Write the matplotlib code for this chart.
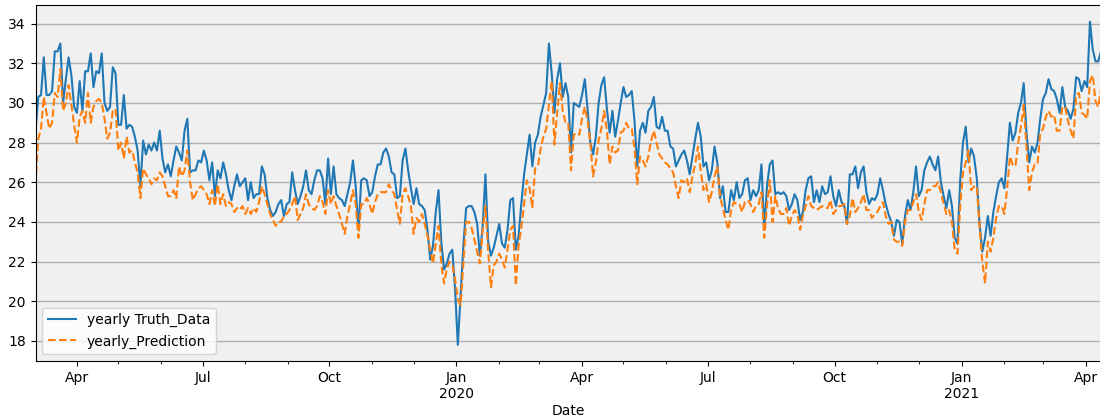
import matplotlib
matplotlib.use("Agg")
import matplotlib.pyplot as plt
import matplotlib.dates as mdates
from matplotlib.ticker import FuncFormatter
import pandas as pd

start_date = "2019-03-02"
step = "2D"

truth = [
    # Mar - Jun 2019
    28.6, 30.3, 30.4, 32.3, 30.4, 30.4, 30.6, 32.6, 32.6, 33.0,
    30.0, 31.2, 32.3, 31.4, 29.8, 29.5, 31.1, 29.6, 31.6, 31.6,
    32.5, 30.8, 31.6, 31.5, 32.5, 30.0, 29.6, 29.8, 31.8, 31.5,
    28.9, 28.9, 30.4, 28.7, 28.9, 28.8, 28.3, 27.6, 25.8, 28.1,
    27.4, 27.9, 27.6, 28.0, 27.6, 28.6, 27.2, 26.5, 26.9,
    # Jun - Sep 2019
    26.3, 27.1, 27.8, 27.5, 27.1, 28.6, 29.2, 26.5, 26.6, 26.6,
    27.1, 27.0, 27.6, 27.1, 26.1, 27.0, 25.3, 26.6, 26.2, 27.0,
    26.4, 25.6, 25.1, 25.8, 26.4, 25.8, 26.0, 26.2, 25.1, 26.0,
    25.2, 25.4, 25.4, 26.8, 26.4, 25.2, 24.6, 24.3, 24.5, 24.9,
    25.1, 24.3, 24.9, 25.0, 26.5, 25.6, 24.9, 25.3, 25.8,
    # Sep - Dec 2019
    26.6, 25.6, 25.4, 26.1, 26.6, 26.6, 26.2, 24.9, 27.2, 25.4,
    26.8, 25.4, 25.2, 25.1, 24.8, 25.4, 26.0, 27.1, 25.8, 23.6,
    26.1, 26.2, 26.1, 25.3, 25.5, 26.3, 26.9, 26.9, 27.5, 27.7,
    27.3, 26.5, 26.4, 25.2, 25.3, 27.1, 27.7, 26.6, 25.7, 24.9,
    25.7, 24.9, 24.8, 24.6, 23.6, 22.1, 22.8, 24.5, 25.6,
    # Dec 2019 - Mar 2020
    23.0, 21.6, 21.9, 22.4, 22.6, 20.6, 17.8, 20.3, 22.8, 24.7,
    24.8, 24.8, 24.5, 23.9, 22.3, 23.8, 26.4, 23.0, 22.3, 22.7,
    23.3, 23.9, 22.9, 22.7, 23.6, 25.1, 25.2, 22.6, 23.3, 24.9,
    26.4, 27.4, 28.4, 26.8, 28.0, 28.4, 29.3, 29.9, 30.5, 33.0,
    31.5, 29.5, 31.2, 32.0, 30.3, 31.0, 30.3, 27.5, 30.0,
    # Mar - Jul 2020
    29.9, 29.8, 30.4, 31.2, 29.7, 28.0, 27.4, 28.3, 30.0, 30.9,
    31.3, 29.7, 28.5, 29.6, 28.3, 29.1, 30.0, 30.8, 30.3, 30.4,
    30.6, 29.1, 26.8, 28.6, 29.0, 28.5, 29.6, 29.8, 30.3, 28.8,
    28.7, 29.3, 28.6, 28.6, 27.8, 27.7, 26.8, 27.1, 27.4, 27.6,
    27.1, 26.4, 27.3, 28.2, 29.0, 28.3, 26.8, 27.0, 26.1,
    # Jul - Oct 2020
    26.6, 27.8, 27.0, 25.2, 25.8, 24.5, 24.5, 25.6, 25.1, 26.0,
    25.2, 25.4, 26.1, 26.2, 25.1, 25.6, 25.3, 25.6, 26.9, 23.6,
    25.8, 26.9, 27.1, 25.4, 25.5, 25.4, 25.5, 25.3, 24.6, 24.9,
    25.4, 25.1, 24.1, 24.5, 25.6, 26.2, 26.3, 25.0, 25.6, 25.0,
    25.8, 25.4, 25.5, 26.3, 25.3, 24.8, 25.6, 25.0, 24.8,
    # Oct 2020 - Jan 2021
    23.9, 26.4, 26.4, 26.8, 25.7, 26.5, 26.8, 25.5, 24.9, 25.2,
    25.1, 25.4, 26.2, 25.6, 24.9, 24.4, 24.0, 23.3, 24.1, 24.0,
    22.9, 24.3, 25.1, 24.6, 25.5, 26.8, 25.3, 25.6, 26.6, 27.0,
    27.3, 26.9, 26.6, 27.3, 26.0, 25.3, 24.7, 25.6, 24.8, 23.2,
    22.9, 26.1, 28.0, 28.8, 27.0, 27.7, 27.3, 26.2, 23.9,
    # Jan - Apr 2021
    22.5, 23.2, 24.3, 23.3, 24.5, 25.3, 26.0, 26.2, 25.7, 27.3,
    29.0, 28.1, 28.5, 29.5, 30.0, 31.0, 28.5, 27.0, 27.8, 27.5,
    28.0, 29.2, 30.2, 30.5, 31.2, 30.7, 30.6, 30.2, 29.5, 30.8,
    29.8, 29.6, 29.2, 29.7, 31.3, 31.2, 30.6, 31.1, 30.8, 34.1,
    32.7, 32.1, 32.1, 32.6,
]

prediction = [
    # Mar - Jun 2019
    25.9, 28.2, 28.7, 30.3, 29.5, 28.7, 29.0, 30.5, 30.3, 31.7,
    29.6, 30.0, 30.9, 29.9, 28.9, 28.0, 29.3, 29.6, 29.0, 30.5,
    29.0, 29.8, 30.1, 30.2, 30.0, 29.2, 28.2, 28.5, 29.6, 29.7,
    27.6, 28.0, 27.2, 28.3, 27.5, 27.6, 27.0, 26.5, 25.2, 26.7,
    26.4, 26.2, 25.9, 26.2, 26.1, 26.5, 26.3, 25.8, 25.3,
    # Jun - Sep 2019
    25.3, 25.6, 25.2, 26.8, 26.3, 26.6, 27.6, 26.0, 25.1, 25.4,
    25.7, 25.8, 25.6, 25.4, 24.9, 25.6, 24.8, 25.9, 24.9, 25.4,
    24.8, 25.0, 24.9, 24.5, 24.7, 24.6, 24.8, 24.4, 24.7, 24.4,
    24.7, 24.5, 25.0, 25.8, 25.4, 24.9, 24.4, 24.1, 23.8, 24.0,
    24.0, 24.3, 24.4, 24.6, 24.9, 25.3, 24.1, 24.4, 24.7,
    # Sep - Dec 2019
    25.4, 24.9, 24.7, 24.6, 24.8, 25.3, 25.0, 24.4, 25.6, 24.9,
    25.3, 24.8, 24.4, 23.9, 23.4, 24.3, 24.9, 25.6, 24.9, 23.2,
    24.9, 24.9, 25.2, 24.9, 24.4, 25.0, 25.4, 25.5, 25.5, 25.5,
    25.9, 25.6, 25.4, 24.6, 23.9, 25.4, 25.7, 25.3, 24.8, 23.4,
    24.2, 24.0, 24.4, 23.9, 23.3, 22.6, 21.9, 22.9, 23.8,
    # Dec 2019 - Mar 2020
    21.9, 20.9, 21.6, 22.0, 21.8, 21.1, 20.1, 19.8, 21.9, 24.0,
    24.0, 23.7, 23.1, 22.5, 21.9, 23.6, 24.8, 22.5, 20.7, 21.8,
    22.0, 22.4, 22.1, 21.7, 22.6, 23.6, 23.8, 20.8, 22.8, 23.7,
    24.9, 26.1, 25.7, 24.7, 26.7, 26.8, 27.7, 28.3, 28.7, 29.9,
    31.1, 27.9, 29.5, 31.0, 29.6, 29.0, 29.0, 26.6, 28.4,
    # Mar - Jul 2020
    28.5, 28.4, 29.2, 29.8, 29.1, 28.0, 26.3, 27.0, 28.1, 28.7,
    29.6, 28.6, 26.9, 27.8, 27.5, 27.6, 28.5, 28.6, 29.0, 28.7,
    28.7, 27.7, 25.9, 27.3, 27.1, 26.8, 27.3, 28.1, 28.6, 28.0,
    27.4, 27.2, 27.0, 26.9, 26.7, 26.5, 25.8, 25.2, 26.1, 26.0,
    26.2, 25.5, 26.3, 26.9, 27.8, 26.6, 25.6, 25.9, 25.0,
    # Jul - Oct 2020
    25.5, 26.3, 26.8, 25.3, 24.7, 24.1, 23.6, 24.6, 25.0, 24.9,
    24.9, 24.5, 25.0, 25.1, 24.9, 24.5, 24.8, 24.9, 25.5, 23.2,
    24.8, 26.1, 24.0, 25.3, 24.7, 24.4, 24.4, 24.7, 23.8, 24.3,
    24.6, 24.4, 23.6, 24.3, 24.8, 25.3, 24.8, 24.7, 24.6, 24.7,
    24.8, 24.7, 24.7, 25.1, 24.4, 24.6, 24.8, 24.8, 24.9,
    # Oct 2020 - Jan 2021
    23.9, 24.3, 25.2, 24.5, 24.7, 25.0, 25.4, 24.6, 24.6, 24.2,
    24.4, 24.5, 24.8, 25.0, 24.3, 23.9, 24.0, 23.1, 23.0, 23.0,
    22.8, 24.0, 24.6, 24.6, 25.0, 25.4, 24.5, 24.1, 24.9, 25.6,
    25.6, 25.8, 25.8, 26.0, 25.5, 24.9, 24.4, 24.6, 24.0, 22.6,
    22.4, 24.8, 26.5, 27.0, 27.6, 25.6, 25.8, 25.8, 23.8,
    # Jan - Apr 2021
    22.0, 20.9, 23.0, 22.5, 23.2, 24.2, 24.8, 24.8, 24.4, 25.7,
    27.3, 26.9, 26.8, 28.0, 28.8, 29.9, 27.8, 25.6, 26.5, 26.9,
    26.9, 28.5, 28.7, 29.3, 29.6, 29.3, 29.4, 28.6, 28.6, 29.8,
    29.8, 29.1, 28.6, 28.2, 30.4, 30.5, 29.5, 29.4, 29.2, 31.1,
    31.4, 30.1, 29.8, 30.7,
]

series_labels = ["yearly Truth_Data", "yearly_Prediction"]

dates = pd.date_range(start_date, periods=len(truth), freq=step)

fig = plt.figure(figsize=(11, 4.19), dpi=100)
W, H = 1100, 419
ax = fig.add_axes([35.5 / W, 1 - 361 / H, (1101 - 35.5) / W, (361 - 5.5) / H])
ax.set_facecolor("#f0f0f0")

ax.plot(dates, truth, color="#1f77b4", lw=1.5, label=series_labels[0])
ax.plot(dates, prediction, color="#ff7f0e", lw=1.5, ls="--", label=series_labels[1])

ax.grid(axis="y", color="#b0b0b0", lw=1.0)
ax.set_axisbelow(True)
ax.set_xlim(dates[0], dates[-1])
ax.set_yticks([18, 20, 22, 24, 26, 28, 30, 32, 34])

ax.xaxis.set_major_locator(mdates.MonthLocator(bymonth=[1, 4, 7, 10]))
ax.xaxis.set_minor_locator(mdates.MonthLocator())


def fmt(x, pos=None):
    d = mdates.num2date(x)
    s = d.strftime("%b")
    if d.month == 1:
        s += "\n" + d.strftime("%Y")
    return s


ax.xaxis.set_major_formatter(FuncFormatter(fmt))
ax.xaxis.set_minor_formatter(FuncFormatter(lambda x, pos=None: ""))
for lab in ax.get_xticklabels():
    lab.set_ha("center")

ax.set_xlabel("Date", labelpad=2)
ax.spines["right"].set_visible(False)
ax.legend(loc="lower left")

fig.savefig("out.png", dpi=100, facecolor="white")
